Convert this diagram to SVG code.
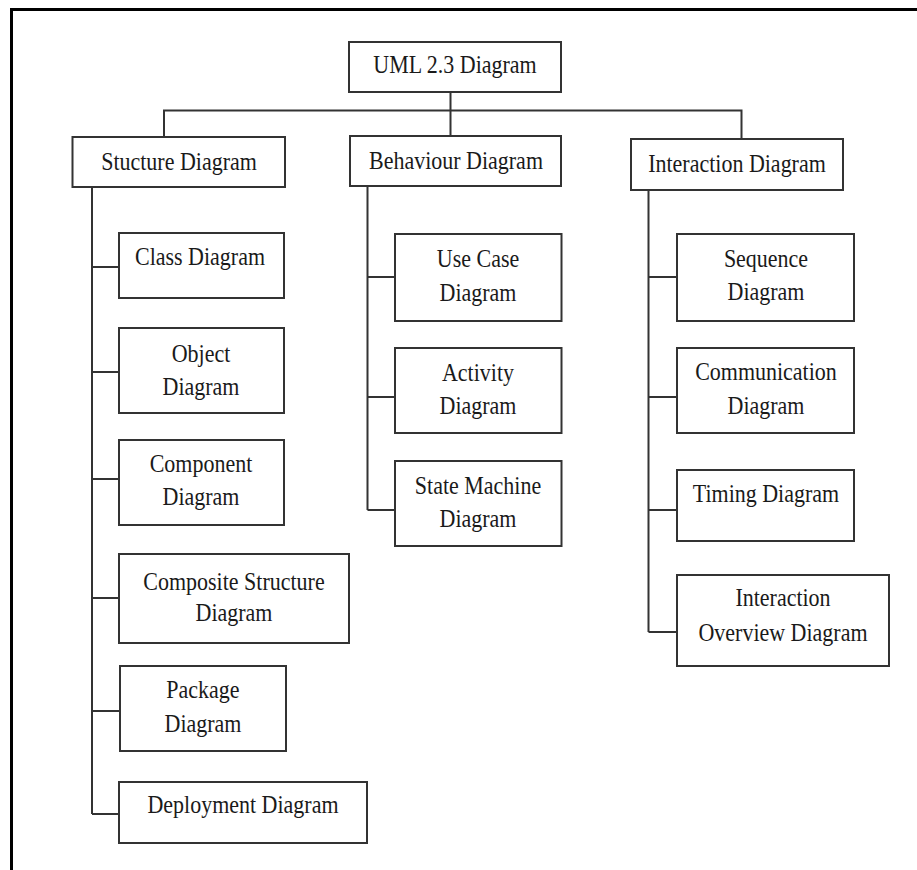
<svg xmlns="http://www.w3.org/2000/svg" width="917" height="870" viewBox="0 0 917 870">
<style>
.box{fill:#fff;stroke:#333;stroke-width:2}
.con{fill:none;stroke:#333;stroke-width:2}
.t{font-family:"Liberation Serif","Times New Roman",serif;font-size:22px;fill:#1a1a1a;text-anchor:middle;transform-box:fill-box;transform-origin:center;transform:scaleY(1.15)}
</style>
<rect x="0" y="0" width="917" height="870" fill="#fff"/>
<path d="M11.5 870 V9.5 H917" fill="none" stroke="#000" stroke-width="3"/>
<g id="connectors">
<path class="con" d="M450.5 92 V137 M164 137 V110.5 H741.5 V139"/>
<path class="con" d="M92 187 V814 M92 267 H119 M92 372 H119 M92 479 H119 M92 598 H119 M92 711 H120 M92 814 H119"/>
<path class="con" d="M367.5 186 V510 M367.5 277 H395 M367.5 397 H395 M367.5 510 H395"/>
<path class="con" d="M648.5 190 V632 M648.5 277 H677 M648.5 397 H677 M648.5 510 H677 M648.5 632 H677"/>
</g>
<g id="uml"><rect class="box" x="349" y="42" width="212" height="50"/><text class="t" x="455" y="72">UML 2.3 Diagram</text></g>
<g id="structure"><rect class="box" x="72.5" y="137" width="212.5" height="50"/><text class="t" x="179" y="169">Stucture Diagram</text></g>
<g id="behaviour"><rect class="box" x="350" y="136" width="211" height="50"/><text class="t" x="456" y="167.5">Behaviour Diagram</text></g>
<g id="interaction"><rect class="box" x="631" y="139" width="212" height="51"/><text class="t" x="737" y="171">Interaction Diagram</text></g>
<g id="class"><rect class="box" x="119" y="233" width="165" height="65"/><text class="t" x="200" y="264">Class Diagram</text></g>
<g id="object"><rect class="box" x="119" y="328" width="165" height="85"/><text class="t" x="201" y="361">Object</text><text class="t" x="201" y="394">Diagram</text></g>
<g id="component"><rect class="box" x="119" y="440" width="165" height="85"/><text class="t" x="201" y="471">Component</text><text class="t" x="201" y="504">Diagram</text></g>
<g id="composite"><rect class="box" x="119" y="554" width="230" height="89"/><text class="t" x="234" y="588.5">Composite Structure</text><text class="t" x="234" y="620">Diagram</text></g>
<g id="package"><rect class="box" x="120" y="666" width="166" height="85"/><text class="t" x="203" y="697">Package</text><text class="t" x="203" y="731">Diagram</text></g>
<g id="deployment"><rect class="box" x="119" y="782" width="248" height="61"/><text class="t" x="243" y="812">Deployment Diagram</text></g>
<g id="usecase"><rect class="box" x="395" y="234" width="166.5" height="87"/><text class="t" x="478" y="266">Use Case</text><text class="t" x="478" y="300">Diagram</text></g>
<g id="activity"><rect class="box" x="395" y="348" width="166.5" height="85"/><text class="t" x="478" y="380">Activity</text><text class="t" x="478" y="412.5">Diagram</text></g>
<g id="statemachine"><rect class="box" x="395" y="461" width="166.5" height="85"/><text class="t" x="478" y="492.5">State Machine</text><text class="t" x="478" y="526">Diagram</text></g>
<g id="sequence"><rect class="box" x="677" y="234" width="177" height="87"/><text class="t" x="766" y="266">Sequence</text><text class="t" x="766" y="299">Diagram</text></g>
<g id="communication"><rect class="box" x="677" y="348" width="177" height="85"/><text class="t" x="766" y="379">Communication</text><text class="t" x="766" y="412.5">Diagram</text></g>
<g id="timing"><rect class="box" x="677" y="470" width="177" height="71"/><text class="t" x="766" y="501">Timing Diagram</text></g>
<g id="overview"><rect class="box" x="677" y="575" width="212" height="91"/><text class="t" x="783" y="605">Interaction</text><text class="t" x="783" y="640">Overview Diagram</text></g>
</svg>
